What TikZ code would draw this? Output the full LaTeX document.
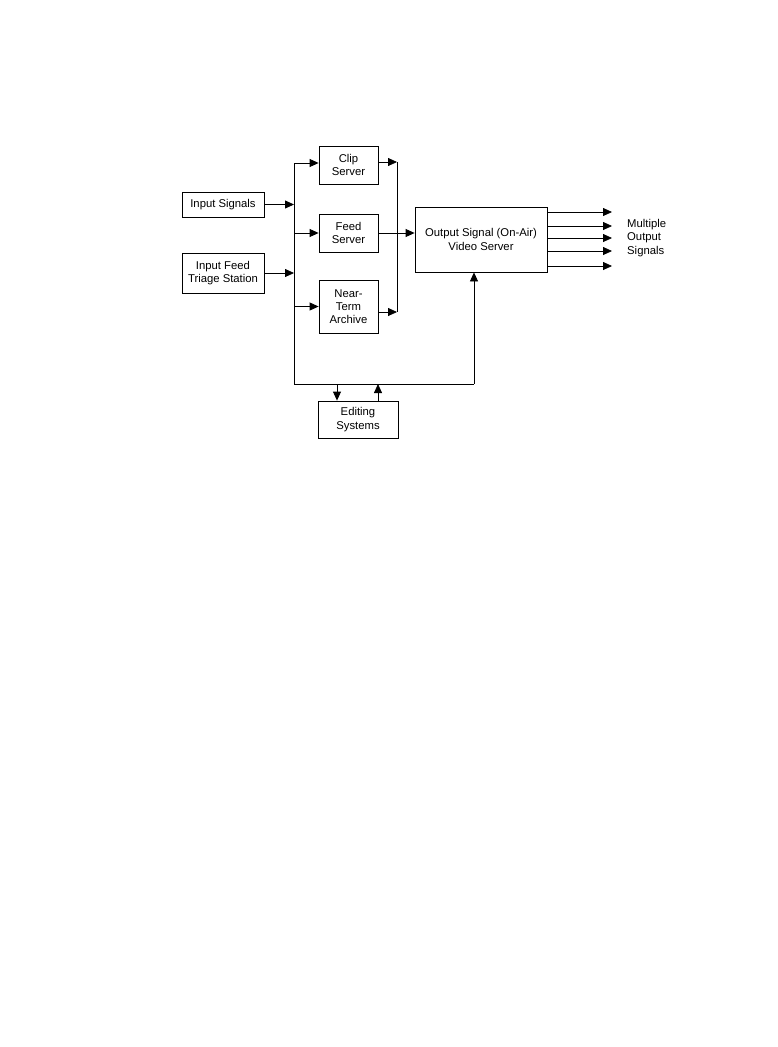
\documentclass[tikz,border=0pt]{standalone}
\usepackage{fontspec}
\setmainfont{Liberation Sans}
\usetikzlibrary{arrows.meta,positioning}

\begin{document}
\begin{tikzpicture}[x=1pt, y=-1pt,
    every node/.style={font=\fontsize{11.3}{13.2}\selectfont},
    blk/.style={draw, line width=0.8pt, align=center, inner sep=0pt},
    arr/.style={-{Triangle[length=9pt,width=8pt]}, line width=0.8pt},
    ln/.style={line width=0.8pt}]
    \useasboundingbox (0,0) rectangle (777,1047);
    \node[blk, minimum width=82pt, minimum height=25pt] (insig) at (223,204.5) {Input Signals};
    \node[blk, minimum width=82pt, minimum height=40pt] (triage) at (223,273) {Input Feed\\Triage Station};
    \node[blk, minimum width=59pt, minimum height=38pt] (clip) at (348.5,165) {Clip\\Server};
    \node[blk, minimum width=59pt, minimum height=38pt] (feed) at (348.5,233) {Feed\\Server};
    \node[blk, minimum width=59pt, minimum height=53pt] (archive) at (348.5,306.5) {Near-\\Term\\Archive};
    \node[blk, minimum width=132pt, minimum height=65pt] (out) at (481,239.5) {Output Signal (On-Air)\\Video Server};
    \node[blk, minimum width=80pt, minimum height=37pt] (edit) at (358,419.5) {Editing\\Systems};
    \node[align=left, anchor=west, inner sep=0pt] (multi) at (627,238) {Multiple\\Output\\Signals};
    % left bus and bottom bus
    \coordinate (ltop) at (294,163);
    \coordinate (lbot) at (294,384);
    \coordinate (rbot) at (474,384);
    \draw[ln] (ltop) -- (lbot) -- (rbot);
    \draw[arr] (rbot) -- (rbot |- out.south);
    \draw[arr] (insig) -- (insig -| ltop);
    \draw[arr] (triage) -- (triage -| ltop);
    \draw[arr] (ltop) -- (clip.west |- ltop);
    \draw[arr] (feed -| ltop) -- (feed.west);
    \draw[arr] (archive -| ltop) -- (archive.west);
    % right bus
    \coordinate (rtop) at (397,162);
    \coordinate (rbus) at (397,312);
    \draw[ln] (rtop) -- (rbus);
    \draw[arr] (clip.east |- rtop) -- (rtop);
    \draw[arr] (archive.east |- rbus) -- (rbus);
    \draw[arr] (feed.east) -- (feed.east -| out.west);
    % editing
    \coordinate (edn) at (337,384);
    \coordinate (eup) at (378,384);
    \draw[arr] (edn) -- (edn |- edit.north);
    \draw[arr] (eup |- edit.north) -- (eup);
    % outputs
    \coordinate (tip) at (612,0);
    \foreach \y in {212,226,238,251,266}
      \draw[arr] (out.east |- 0,\y) -- (tip |- 0,\y);
  \end{tikzpicture}
\end{document}
